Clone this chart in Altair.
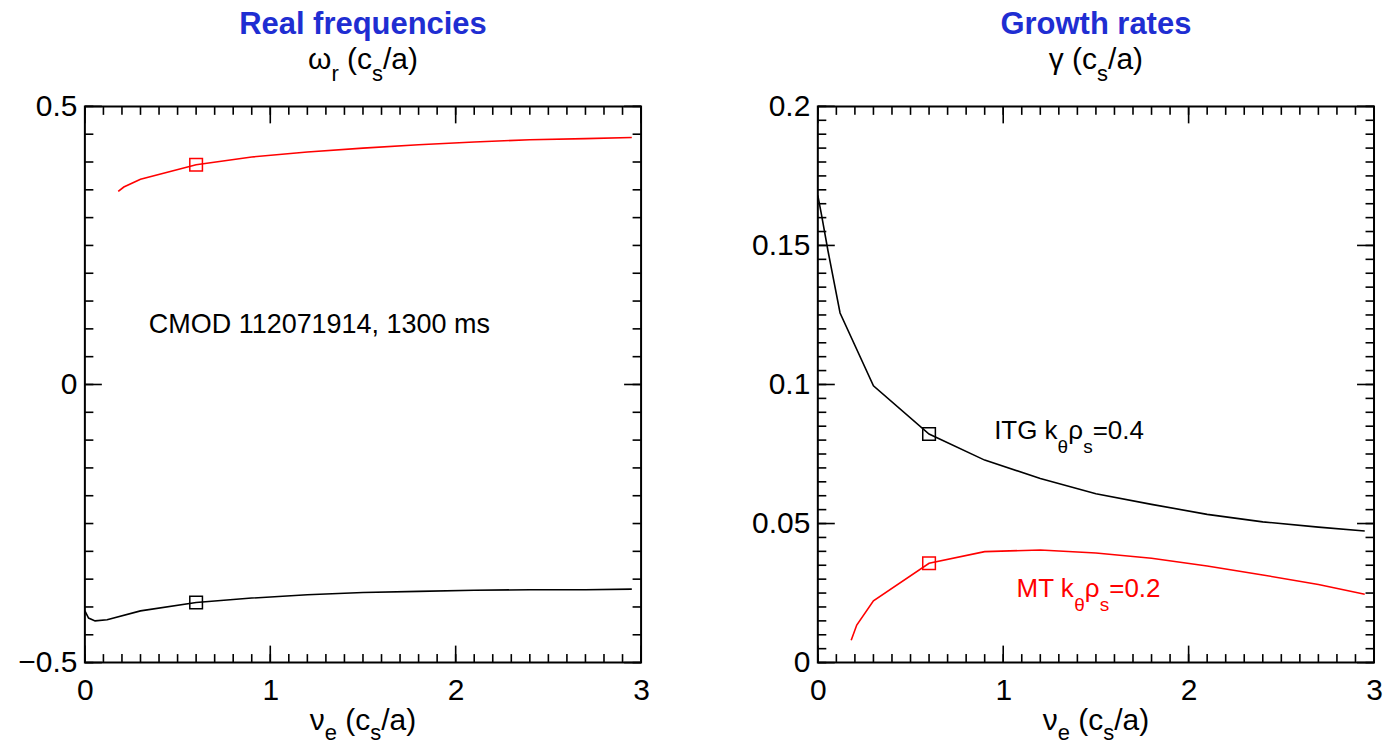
import altair as alt
import numpy as np
import pandas as pd

# ---- collisionality scan, CMOD 112071914 at 1300 ms ----
# ITG branch (k_theta rho_s = 0.4)
itg_nu = [0.0, 0.02, 0.055, 0.12, 0.3, 0.6, 0.9, 1.2, 1.5, 1.8, 2.1, 2.4, 2.7, 2.95]
itg_omega = [-0.407, -0.420, -0.425, -0.423, -0.407, -0.392, -0.384, -0.378,
             -0.374, -0.372, -0.370, -0.369, -0.369, -0.368]
itg_gamma = [0.168, 0.161, 0.148, 0.1257, 0.0995, 0.0822, 0.0728, 0.0662,
             0.0607, 0.0569, 0.0533, 0.0506, 0.0487, 0.0473]

# MT branch (k_theta rho_s = 0.2)
mt_nu = [0.18, 0.21, 0.3, 0.6, 0.9, 1.2, 1.5, 1.8, 2.1, 2.4, 2.7, 2.95]
mt_omega = [0.347, 0.355, 0.369, 0.395, 0.409, 0.418, 0.425, 0.431, 0.436,
            0.440, 0.442, 0.444]
mt_gamma = [0.0080, 0.0135, 0.0222, 0.0357, 0.0399, 0.0405, 0.0394, 0.0375,
            0.0347, 0.0315, 0.0281, 0.0246]

nu_marked = 0.6  # experimental operating point

x_major = [0, 1, 2, 3]
omega_major = [-0.5, 0, 0.5]
gamma_major = [0, 0.05, 0.1, 0.15, 0.2]
x_minor = list(np.round(np.arange(0, 3.0001, 0.1), 3))
omega_minor = list(np.round(np.arange(-0.5, 0.5001, 0.05), 3))
gamma_minor = list(np.round(np.arange(0, 0.2001, 0.005), 4))

# ---- styling ----
FONT = "Liberation Sans"
W, H = 557, 557
GAP = 177
MINOR, MAJOR = 8.5, 17
BLUE = "#1f2ed2"
RED = "#ff0000"
LABEL_SIZE = 30
MAIN, SUB = 30, 22

# Arial / Liberation Sans advance widths (em) for the characters used in rich labels
ADV = {" ": .278, "(": .333, ")": .333, "/": .278, "a": .556, "c": .5,
       "e": .556, "s": .5, "r": .333, "k": .5, "I": .278, "T": .611, "G": .778,
       "M": .833, "=": .584, ".": .278, "θ": .556, "ρ": .577, "ω": .781, "γ": .5,
       "ν": .5}


def text_width(s, size):
    return sum(ADV.get(ch, .556) for ch in s) * size


one_row = pd.DataFrame({"k": [0]})


def rich_text(pieces, x, y, color, main, sub, sub_dy, align="left"):
    """Text with subscripts, built from consecutive text marks.
    Leading/trailing blanks become horizontal offsets (SVG drops them)."""
    total = sum(text_width(t, sub if s else main) for t, s in pieces)
    off = -total / 2 if align == "center" else 0.0
    layers = []
    for t, is_sub in pieces:
        size = sub if is_sub else main
        core = t.strip(" ")
        lead = len(t) - len(t.lstrip(" "))
        trail = len(t) - len(t.rstrip(" "))
        off += text_width(" " * lead, size)
        layers.append(
            alt.Chart(one_row).mark_text(
                text=core, align="left", baseline="alphabetic", dx=off,
                dy=sub_dy if is_sub else 0, font=FONT, fontSize=size, color=color
            ).encode(x=x, y=y)
        )
        off += text_width(core, size) + text_width(" " * trail, size)
    return layers


def tick_layers(xs, ys, xa, ya, xvals_minor, xvals_major, yvals_minor, yvals_major):
    layers = []
    for vals, length in ((xvals_minor, MINOR), (xvals_major, MAJOR)):
        df = pd.DataFrame({"v": vals})
        for y0, y1 in ((H, H - length), (0, length)):
            layers.append(alt.Chart(df).mark_rule(color="black", strokeWidth=1.6).encode(
                x=alt.X("v:Q", scale=xs, axis=xa),
                y=alt.value(y0), y2=alt.value(y1)))
    for vals, length in ((yvals_minor, MINOR), (yvals_major, MAJOR)):
        df = pd.DataFrame({"v": vals})
        for x0, x1 in ((0, length), (W, W - length)):
            layers.append(alt.Chart(df).mark_rule(color="black", strokeWidth=1.6).encode(
                y=alt.Y("v:Q", scale=ys, axis=ya),
                x=alt.value(x0), x2=alt.value(x1)))
    return layers


def axis(values, padding):
    return alt.Axis(values=values, format="~g", title=None, ticks=False, tickSize=0,
                    domain=False, grid=False, labelFont=FONT, labelFontSize=LABEL_SIZE,
                    labelColor="black", labelPadding=padding, labelFlush=False,
                    labelOverlap=False)


def panel(title, sub_pieces, ys_domain, y_major, y_minor, itg_y, mt_y, notes, anchor=False):
    xs = alt.Scale(domain=[0, 3], nice=False, zero=False)
    ys = alt.Scale(domain=ys_domain, nice=False, zero=False)
    xa = axis(x_major, 13)
    ya = axis(y_major, 8)

    itg = pd.DataFrame({"nu": itg_nu, "val": itg_y})
    mt = pd.DataFrame({"nu": mt_nu, "val": mt_y})

    def line(df, color):
        return alt.Chart(df).mark_line(color=color, strokeWidth=1.6).encode(
            x=alt.X("nu:Q", scale=xs, axis=xa),
            y=alt.Y("val:Q", scale=ys, axis=ya))

    def marker(df, color):
        return alt.Chart(df).transform_filter(
            alt.datum.nu == nu_marked
        ).mark_point(shape="square", filled=False, size=160, strokeWidth=1.5,
                     color=color, opacity=1).encode(
            x=alt.X("nu:Q", scale=xs, axis=xa),
            y=alt.Y("val:Q", scale=ys, axis=ya))

    layers = tick_layers(xs, ys, xa, ya, x_minor, x_major, y_minor, y_major)
    layers += [line(itg, "black"), line(mt, RED), marker(itg, "black"), marker(mt, RED)]

    # headings
    layers.append(alt.Chart(one_row).mark_text(
        text=title, align="center", baseline="alphabetic", font=FONT, fontSize=31,
        fontWeight="bold", color=BLUE).encode(x=alt.value(W / 2), y=alt.value(-72)))
    layers += rich_text(sub_pieces, alt.value(W / 2), alt.value(-37), "black",
                        MAIN, SUB, 12, align="center")
    layers += rich_text([("ν", False), ("e", True), (" (c", False), ("s", True), ("/a)", False)],
                        alt.value(W / 2), alt.value(H + 68), "black", MAIN, SUB, 10,
                        align="center")

    for pieces, nx, ny, color, size, sub, dy in notes:
        layers += rich_text(pieces, alt.datum(nx), alt.datum(ny), color, size, sub, dy)

    if anchor:
        # pins the page's top-left corner so the frame sits at a fixed offset
        layers.append(alt.Chart(one_row).mark_rule(strokeOpacity=0, strokeWidth=0).encode(
            x=alt.value(-84), x2=alt.value(-84), y=alt.value(-105), y2=alt.value(-100)))

    return alt.layer(*layers).properties(width=W, height=H)


left = panel(
    "Real frequencies",
    [("ω", False), ("r", True), (" (c", False), ("s", True), ("/a)", False)],
    [-0.5, 0.5], omega_major, omega_minor, itg_omega, mt_omega,
    [([("CMOD 112071914, 1300 ms", False)], 0.345, 0.093, "black", 27, 20, 0)],
    anchor=True,
)

right = panel(
    "Growth rates",
    [("γ", False), (" (c", False), ("s", True), ("/a)", False)],
    [0, 0.2], gamma_major, gamma_minor, itg_gamma, mt_gamma,
    [
        ([("ITG k", False), ("θ", True), ("ρ", False), ("s", True), ("=0.4", False)],
         0.951, 0.0804, "black", 26, 19, 14),
        ([("MT k", False), ("θ", True), ("ρ", False), ("s", True), ("=0.2", False)],
         1.072, 0.0236, RED, 26, 19, 14),
    ],
)

chart = alt.hconcat(left, right, spacing=GAP, bounds="flush").properties(
    padding=0, background="white"
).configure_view(stroke="black", strokeWidth=2)

chart.save("out.html", embed_options={"renderer": "svg", "actions": False})
